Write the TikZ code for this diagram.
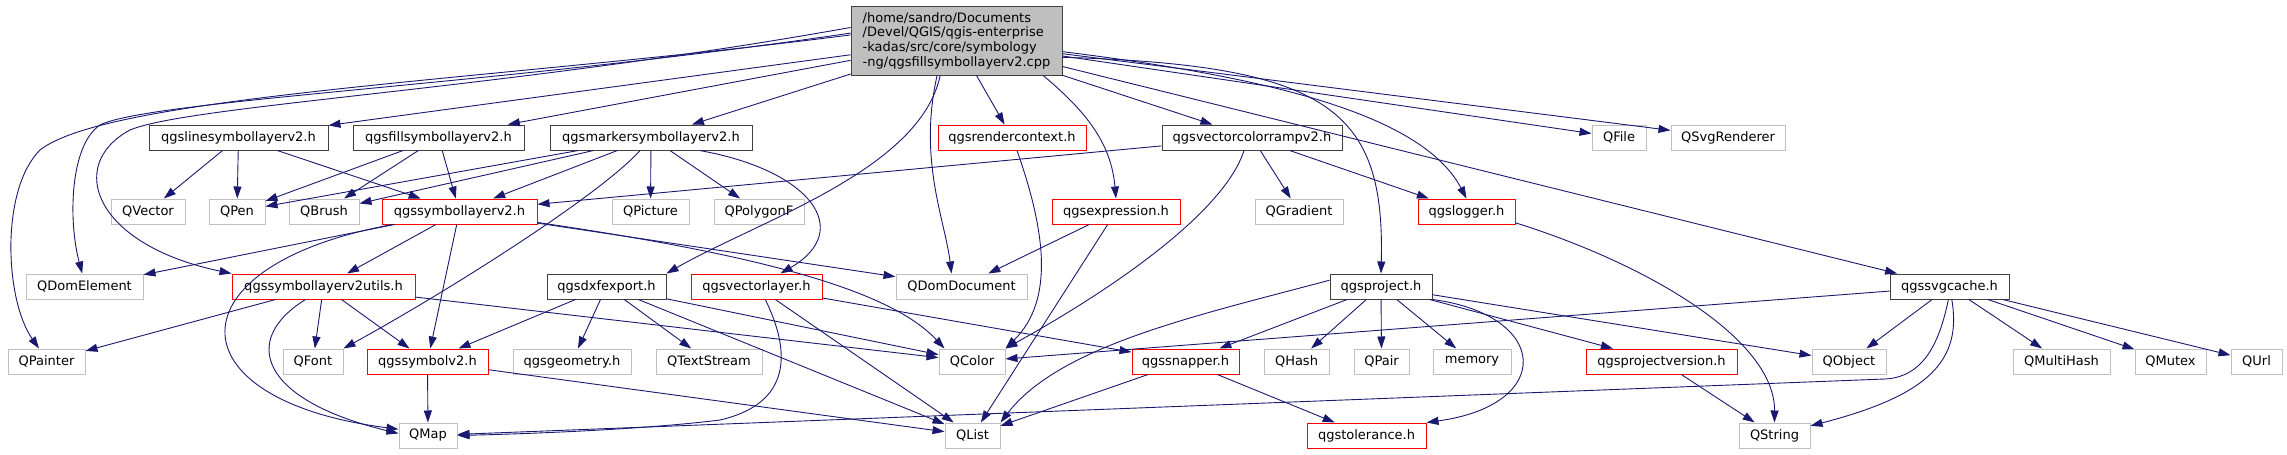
\documentclass[tikz,border=0pt]{standalone}
\usepackage{fontspec}
\setmainfont{DejaVu Sans}
\usepackage{tikz}
\usetikzlibrary{arrows.meta}
\definecolor{Edge}{HTML}{191970}
\definecolor{DocLine}{HTML}{404040}
\definecolor{TruncLine}{HTML}{FF0000}
\definecolor{ExtLine}{HTML}{BFBFBF}
\definecolor{RootFill}{HTML}{BFBFBF}

\begin{document}
\begin{tikzpicture}[
  x=1pt, y=-1pt,
  font=\fontsize{13}{14.7}\selectfont,
  box/.style={rectangle, inner sep=0pt, minimum height=25, line width=1pt, fill=white},
  docbox/.style={box, draw=DocLine},
  truncbox/.style={box, draw=TruncLine},
  extbox/.style={box, draw=ExtLine},
  srcbox/.style={box, draw=DocLine, fill=RootFill, align=left, minimum height=69},
  arrow/.style={-{Triangle[length=12pt, width=8pt]}, line width=0.9pt, draw=Edge}
]
\useasboundingbox (0,0) rectangle (2287,455);

\node[srcbox, minimum width=211] (cpp) at (956.5,40.5) {/home/sandro/Documents\\/Devel/QGIS/qgis-enterprise\\-kadas/src/core/symbology\\-ng/qgsfillsymbollayerv2.cpp};

\node[docbox, minimum width=179] (linesym) at (238.5,137.5) {qgslinesymbollayerv2.h};
\node[docbox, minimum width=171] (fillsym) at (438.5,137.5) {qgsfillsymbollayerv2.h};
\node[docbox, minimum width=202] (markersym) at (651,137.5) {qgsmarkersymbollayerv2.h};
\node[truncbox, minimum width=148] (rendercontext) at (1012,137.5) {qgsrendercontext.h};
\node[docbox, minimum width=180] (colorramp) at (1252,137.5) {qgsvectorcolorrampv2.h};
\node[extbox, minimum width=54] (qfile) at (1619,137.5) {QFile};
\node[extbox, minimum width=114] (qsvgrenderer) at (1728,137.5) {QSvgRenderer};

\node[extbox, minimum width=74] (qvector) at (148,211.5) {QVector};
\node[extbox, minimum width=56] (qpen) at (237,211.5) {QPen};
\node[extbox, minimum width=70] (qbrush) at (324,211.5) {QBrush};
\node[truncbox, minimum width=155] (symlayer) at (459.5,211.5) {qgssymbollayerv2.h};
\node[extbox, minimum width=77] (qpicture) at (650.5,211.5) {QPicture};
\node[extbox, minimum width=90] (qpolygonf) at (759,211.5) {QPolygonF};
\node[truncbox, minimum width=128] (expression) at (1116,211.5) {qgsexpression.h};
\node[extbox, minimum width=88] (qgradient) at (1299,211.5) {QGradient};
\node[truncbox, minimum width=97] (logger) at (1466.5,211.5) {qgslogger.h};

\node[extbox, minimum width=117] (qdomelement) at (84.5,286.5) {QDomElement};
\node[truncbox, minimum width=183] (symutils) at (323.5,286.5) {qgssymbollayerv2utils.h};
\node[docbox, minimum width=119] (dxfexport) at (606.5,286.5) {qgsdxfexport.h};
\node[truncbox, minimum width=131] (vectorlayer) at (756.5,286.5) {qgsvectorlayer.h};
\node[extbox, minimum width=131] (qdomdocument) at (961.5,286.5) {QDomDocument};
\node[docbox, minimum width=102] (project) at (1381,286.5) {qgsproject.h};
\node[docbox, minimum width=119] (svgcache) at (1949.5,286.5) {qgssvgcache.h};

\node[extbox, minimum width=77] (qpainter) at (46.5,361.5) {QPainter};
\node[extbox, minimum width=60] (qfont) at (313,361.5) {QFont};
\node[truncbox, minimum width=121] (symbolv2) at (427.5,361.5) {qgssymbolv2.h};
\node[extbox, minimum width=118] (qgsgeometry) at (572,361.5) {qgsgeometry.h};
\node[extbox, minimum width=106] (qtextstream) at (709,361.5) {QTextStream};
\node[extbox, minimum width=66] (qcolor) at (972,361.5) {QColor};
\node[truncbox, minimum width=107] (snapper) at (1185.5,361.5) {qgssnapper.h};
\node[extbox, minimum width=65] (qhash) at (1296.5,361.5) {QHash};
\node[extbox, minimum width=55] (qpair) at (1381.5,361.5) {QPair};
\node[extbox, minimum width=78] (memory) at (1472,361.5) {memory};
\node[truncbox, minimum width=151] (projversion) at (1661.5,361.5) {qgsprojectversion.h};
\node[extbox, minimum width=74] (qobject) at (1849,361.5) {QObject};
\node[extbox, minimum width=97] (qmultihash) at (2061.5,361.5) {QMultiHash};
\node[extbox, minimum width=71] (qmutex) at (2170.5,361.5) {QMutex};
\node[extbox, minimum width=51] (qurl) at (2256.5,361.5) {QUrl};

\node[extbox, minimum width=58] (qmap) at (428,435.5) {QMap};
\node[extbox, minimum width=55] (qlist) at (972.5,435.5) {QList};
\node[truncbox, minimum width=119] (tolerance) at (1366.5,435.5) {qgstolerance.h};
\node[extbox, minimum width=71] (qstring) at (1774.5,435.5) {QString};

\draw[arrow] (cpp.177) .. controls (500,80) and (110,95) .. (40,150) .. controls (0,190) and (5,300) .. (qpainter.120);
\draw[arrow] (cpp.176) .. controls (500,85) and (150,100) .. (100,125) .. controls (70,145) and (68,220) .. (qdomelement.100);
\draw[arrow] (cpp.173) .. controls (500,90) and (190,105) .. (130,130) .. controls (65,165) and (95,245) .. (symutils.north west);
\draw[arrow] (cpp) -- (linesym);
\draw[arrow] (cpp) -- (fillsym);
\draw[arrow] (cpp) -- (markersym);
\draw[arrow] (cpp.-115) .. controls (920,170) and (760,220) .. (dxfexport.north east);
\draw[arrow] (cpp.-119) .. controls (918,160) and (945,220) .. ([xshift=-10]qdomdocument.north);
\draw[arrow] (cpp) -- (rendercontext);
\draw[arrow] (cpp.-22) to[out=-40, in=95] (expression.north);
\draw[arrow] (cpp) -- (colorramp);
\draw[arrow] (cpp.-9) .. controls (1330,65) and (1385,110) .. (project.north);
\draw[arrow] (cpp.-6) .. controls (1250,75) and (1420,110) .. (logger.north);
\draw[arrow] (cpp) -- (svgcache);
\draw[arrow] (cpp) -- (qfile);
\draw[arrow] (cpp) -- (qsvgrenderer);

\draw[arrow] (linesym) -- (qvector);
\draw[arrow] (linesym) -- (qpen);
\draw[arrow] (linesym) -- (symlayer);
\draw[arrow] (fillsym) -- (qpen);
\draw[arrow] (fillsym) -- (qbrush);
\draw[arrow] (fillsym) -- (symlayer);
\draw[arrow] (markersym) -- (qpen);
\draw[arrow] (markersym) -- (qbrush);
\draw[arrow] (markersym) -- (symlayer);
\draw[arrow] (markersym.-130) .. controls (600,195) and (450,290) .. (qfont.north east);
\draw[arrow] (markersym) -- (qpicture);
\draw[arrow] (markersym) -- (qpolygonf);
\draw[arrow] (markersym.-15) .. controls (810,170) and (855,230) .. ([xshift=24]vectorlayer.north);
\draw[arrow] ([xshift=5]rendercontext.south) .. controls (1045,230) and (1055,300) .. (qcolor.north east);
\draw[arrow] (colorramp) -- (symlayer);
\draw[arrow] ([xshift=-8]colorramp.south) .. controls (1225,210) and (1120,285) .. (qcolor.north east);
\draw[arrow] (colorramp) -- (qgradient);
\draw[arrow] (colorramp) -- (logger);

\draw[arrow] (symlayer) -- (qdomelement);
\draw[arrow] (symlayer.-169) .. controls (170,265) and (170,400) .. (qmap.168);
\draw[arrow] (symlayer) -- (symutils);
\draw[arrow] (symlayer) -- (symbolv2);
\draw[arrow] (symlayer) -- (qdomdocument);
\draw[arrow] (symlayer.-8) .. controls (760,255) and (890,290) .. ([xshift=6]qcolor.north west);
\draw[arrow] (expression) -- (qdomdocument);
\draw[arrow] (expression) -- (qlist);
\draw[arrow] (logger.-13) .. controls (1650,265) and (1775,340) .. (qstring.north);

\draw[arrow] (symutils) -- (qpainter);
\draw[arrow] ([xshift=-18]symutils.south) .. controls (240,340) and (260,400) .. (qmap.176);
\draw[arrow] (symutils) -- (qfont);
\draw[arrow] (symutils) -- (symbolv2);
\draw[arrow] (symutils) -- (qcolor);
\draw[arrow] (dxfexport) -- (symbolv2);
\draw[arrow] (dxfexport) -- (qgsgeometry);
\draw[arrow] (dxfexport) -- (qtextstream);
\draw[arrow] (dxfexport) -- (qlist);
\draw[arrow] (dxfexport) -- (qcolor);
\draw[arrow] (vectorlayer.-56) .. controls (795,360) and (785,405) .. (720,420) .. controls (640,430) and (520,434) .. (qmap.east);
\draw[arrow] (vectorlayer) -- (qlist);
\draw[arrow] (vectorlayer) -- (snapper);
\draw[arrow] (project.173) .. controls (1200,315) and (1060,345) .. (qlist.north east);
\draw[arrow] (project) -- (snapper);
\draw[arrow] (project) -- (qhash);
\draw[arrow] (project) -- (qpair);
\draw[arrow] (project) -- (memory);
\draw[arrow] (project.south east) .. controls (1550,315) and (1555,405) .. (tolerance.north east);
\draw[arrow] (project) -- (projversion);
\draw[arrow] (project) -- (qobject);
\draw[arrow] (svgcache) -- (qcolor);
\draw[arrow] (svgcache) -- (qobject);
\draw[arrow] (svgcache.-95) .. controls (1940,340) and (1925,377) .. (1885,379) -- (qmap);
\draw[arrow] (svgcache.-80) .. controls (1962,360) and (1930,395) .. (qstring.15);
\draw[arrow] (svgcache) -- (qmultihash);
\draw[arrow] (svgcache) -- (qmutex);
\draw[arrow] (svgcache) -- (qurl);

\draw[arrow] (symbolv2) -- (qmap);
\draw[arrow] (symbolv2) -- (qlist);
\draw[arrow] (snapper) -- (qlist);
\draw[arrow] (snapper) -- (tolerance);
\draw[arrow] (projversion) -- (qstring);
\end{tikzpicture}
\end{document}
